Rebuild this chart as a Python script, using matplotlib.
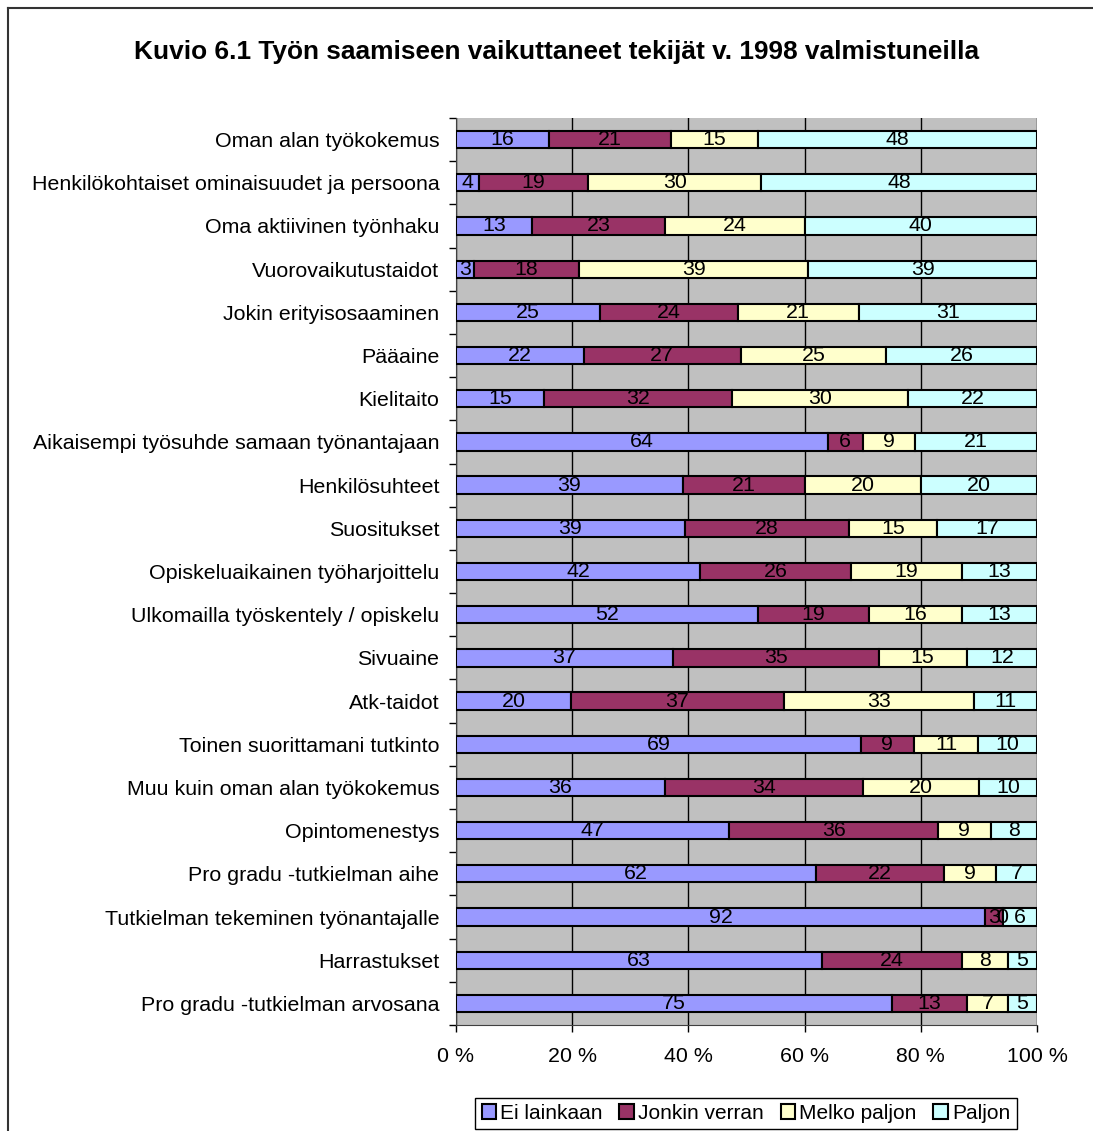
import numpy as np
import matplotlib
matplotlib.use("Agg")
import matplotlib.pyplot as plt
from matplotlib.lines import Line2D
from matplotlib.patches import Patch

plt.rcParams['font.family'] = ['Liberation Sans', 'DejaVu Sans']

categories = ["Oman alan työkokemus",
              "Henkilökohtaiset ominaisuudet ja persoona",
              "Oma aktiivinen työnhaku",
              "Vuorovaikutustaidot",
              "Jokin erityisosaaminen",
              "Pääaine",
              "Kielitaito",
              "Aikaisempi työsuhde samaan työnantajaan",
              "Henkilösuhteet",
              "Suositukset",
              "Opiskeluaikainen työharjoittelu",
              "Ulkomailla työskentely / opiskelu",
              "Sivuaine",
              "Atk-taidot",
              "Toinen suorittamani tutkinto",
              "Muu kuin oman alan työkokemus",
              "Opintomenestys",
              "Pro gradu -tutkielman aihe",
              "Tutkielman tekeminen työnantajalle",
              "Harrastukset",
              "Pro gradu -tutkielman arvosana"]

ei_lainkaan = [16, 4, 13, 3, 25, 22, 15, 64, 39, 39, 42, 52, 37, 20, 69, 36, 47, 62, 92, 63, 75]
jonkin_verran = [21, 19, 23, 18, 24, 27, 32, 6, 21, 28, 26, 19, 35, 37, 9, 34, 36, 22, 3, 24, 13]
melko_paljon = [15, 30, 24, 39, 21, 25, 30, 9, 20, 15, 19, 16, 15, 33, 11, 20, 9, 9, 0, 8, 7]
paljon = [48, 48, 40, 39, 31, 26, 22, 21, 20, 17, 13, 13, 12, 11, 10, 10, 8, 7, 6, 5, 5]

series_names = ["Ei lainkaan", "Jonkin verran", "Melko paljon", "Paljon"]
colors = ["#9999FF", "#993366", "#FFFFCC", "#CCFFFF"]

data = np.array([ei_lainkaan, jonkin_verran, melko_paljon, paljon], dtype=float)
shares = data / data.sum(axis=0) * 100

fs = 15.4

fig = plt.figure(figsize=(10.93, 11.31), dpi=100)
ax = fig.add_axes([0.4172, 0.0937, 0.5316, 0.802])
ax.set_facecolor("#C0C0C0")

y = np.arange(len(categories))
left = np.zeros(len(categories))
for i in range(4):
    ax.barh(y, shares[i], left=left, height=0.4, color=colors[i],
            edgecolor="black", linewidth=1.5, zorder=3)
    for j in range(len(categories)):
        ax.text(left[j] + shares[i][j] / 2, y[j], "%d" % data[i][j],
                ha="center", va="center", fontsize=fs, zorder=4)
    left += shares[i]

ax.set_xlim(0, 100)
ax.set_ylim(len(categories) - 0.5, -0.5)
ax.set_xticks([0, 20, 40, 60, 80, 100])
ax.set_xticklabels(["0 %", "20 %", "40 %", "60 %", "80 %", "100 %"], fontsize=fs)
ax.set_yticks(y)
ax.set_yticklabels(categories, fontsize=fs)
ax.set_yticks(np.arange(-0.5, len(categories)), minor=True)
ax.tick_params(axis="y", which="major", length=0, pad=12)
ax.tick_params(axis="y", which="minor", length=5, width=1)
ax.tick_params(axis="x", length=5, width=1, pad=11)
ax.grid(axis="x", color="black", linewidth=1, zorder=1)
ax.set_axisbelow(True)
for s in ["top", "right"]:
    ax.spines[s].set_visible(False)
for s in ["left", "bottom"]:
    ax.spines[s].set_color("#404040")

fig.text(0.5096, 0.954, "Kuvio 6.1 Työn saamiseen vaikuttaneet tekijät v. 1998 valmistuneilla",
         ha="center", va="center", fontsize=18.9, fontweight="bold")

handles = [Patch(facecolor=c, edgecolor="black", linewidth=1.5) for c in colors]
leg = fig.legend(handles, series_names, loc="center", bbox_to_anchor=(0.6825, 0.0155),
                 ncol=4, fontsize=15, frameon=True, fancybox=False, edgecolor="black",
                 framealpha=1, handlelength=0.7, handleheight=0.7, handletextpad=0.2,
                 columnspacing=0.8, borderpad=0.3, borderaxespad=0)
leg.get_frame().set_linewidth(1)

# outer chart border
fig.add_artist(Line2D([0.0073, 1], [0.9929, 0.9929], color="#333333", linewidth=1.5))
fig.add_artist(Line2D([0.0073, 0.0073], [0, 0.9929], color="#333333", linewidth=1.5))

fig.savefig("out.png", dpi=100)
